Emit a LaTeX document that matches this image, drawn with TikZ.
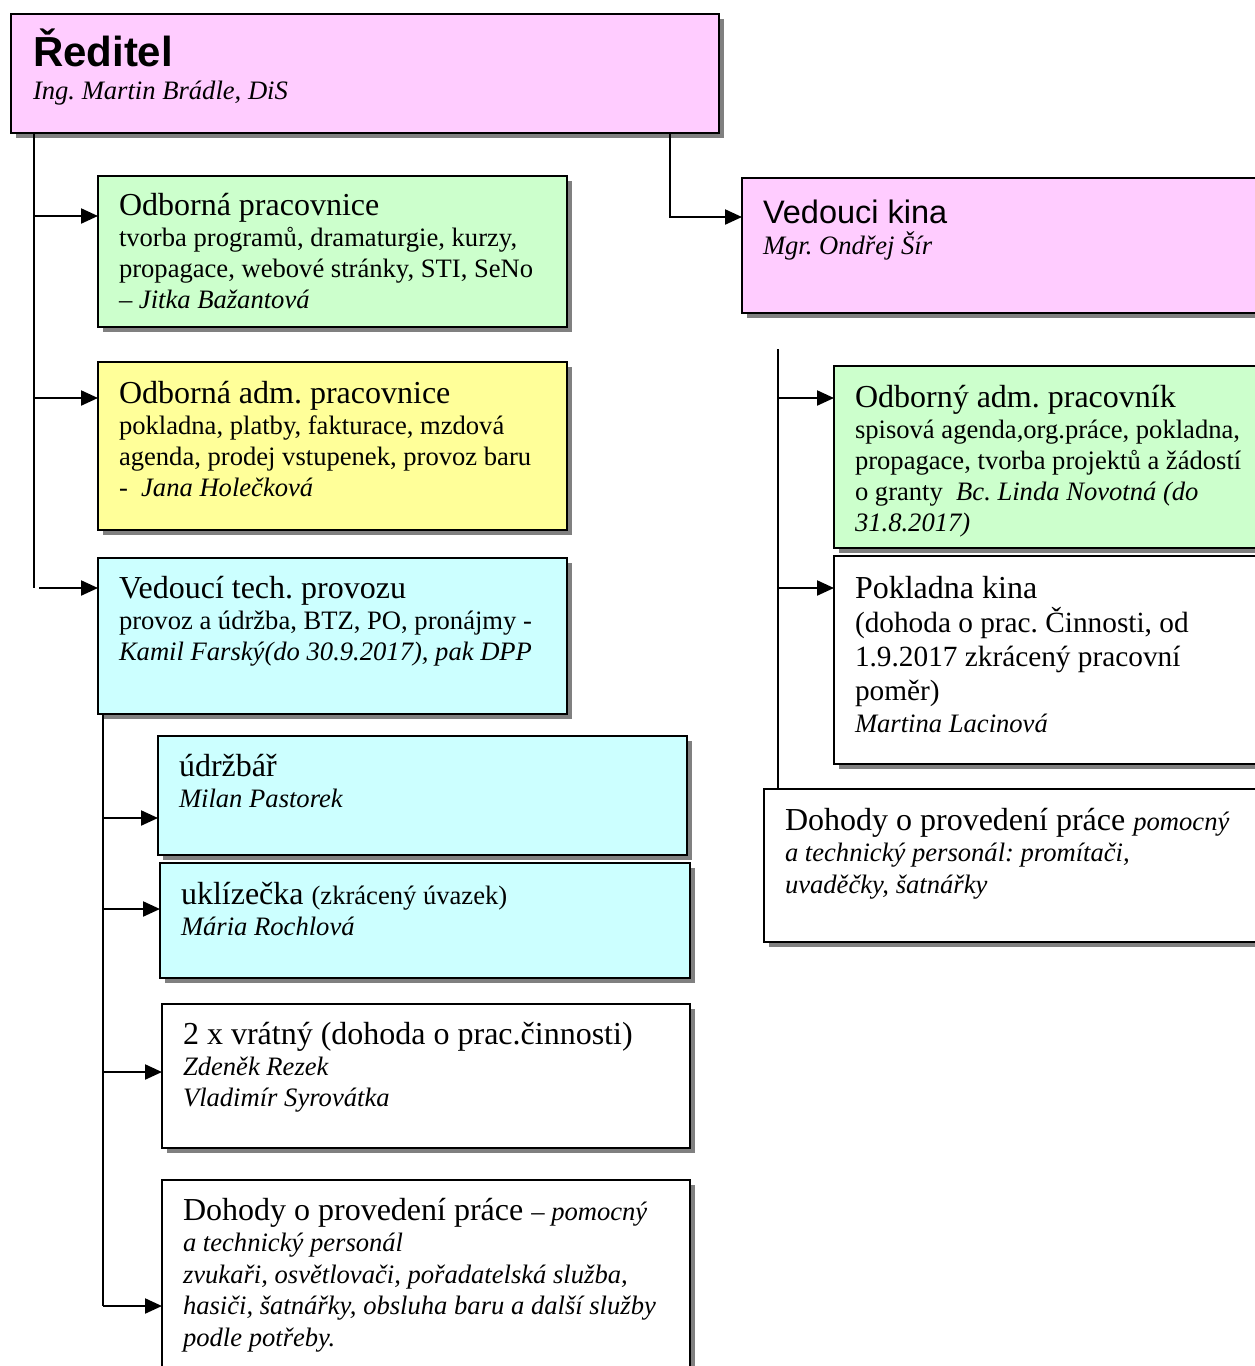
\documentclass[tikz,border=0pt]{standalone}
\usepackage{fontspec}
\setmainfont{Liberation Serif}
\newfontfamily\arialf{Liberation Sans}
\usetikzlibrary{arrows.meta,shadows}
\definecolor{pinkc}{HTML}{FFCCFF}
\definecolor{greenc}{HTML}{CCFFCC}
\definecolor{yellowc}{HTML}{FFFF99}
\definecolor{cyanc}{HTML}{CCFFFF}
\definecolor{shadowc}{HTML}{808080}
\newcommand\hd{\fontsize{32}{36}\selectfont}
\newcommand\bd{\fontsize{26.6}{31}\selectfont}
\newcommand\md{\fontsize{29.3}{34}\selectfont}
\frenchspacing
\tikzset{
  box/.style={draw=black, line width=1.8pt, anchor=north west, inner sep=0pt, outer sep=0pt,
    drop shadow={shadow xshift=5pt, shadow yshift=-5pt, fill=shadowc, opacity=1}},
  txt/.style={anchor=base west, inner sep=0pt, outer sep=0pt, text width=#1,
    execute at begin node={\raggedright\frenchspacing\spaceskip=0pt\xspaceskip=0pt}},
  conn/.style={line width=2.2pt},
  arr/.style={line width=2.2pt, -{Triangle[length=17pt,width=15pt]}},
}
\begin{document}
\begin{tikzpicture}[x=1pt,y=-1pt]
\useasboundingbox (0,0) rectangle (1255,1366);
\clip (0,0) rectangle (1255,1366);
% boxes
\node[box, fill=pinkc, minimum width=708pt, minimum height=119pt] (red) at (11,14) {};
\node[box, fill=greenc, minimum width=469pt, minimum height=151pt] (odb) at (98,176) {};
\node[box, fill=yellowc, minimum width=469pt, minimum height=168pt] (adm) at (98,362) {};
\node[box, fill=cyanc, minimum width=469pt, minimum height=156pt] (tech) at (98,558) {};
\node[box, fill=cyanc, minimum width=529pt, minimum height=119pt] (udr) at (158,736) {};
\node[box, fill=cyanc, minimum width=530pt, minimum height=115pt] (ukl) at (160,863) {};
\node[box, fill=white, minimum width=528pt, minimum height=144pt] (vrat) at (162,1004) {};
\node[box, fill=white, minimum width=528pt, minimum height=220pt] (doh) at (162,1180) {};
\node[box, fill=pinkc, minimum width=533pt, minimum height=135pt] (vk) at (742,178) {};
\node[box, fill=greenc, minimum width=441pt, minimum height=182pt] (odbR) at (834,366) {};
\node[box, fill=white, minimum width=441pt, minimum height=208pt] (pok) at (834,556) {};
\node[box, fill=white, minimum width=511pt, minimum height=153pt] (dohR) at (764,789) {};
% texts
\node[txt=680pt] (redT) at (33,66) {{\arialf\bfseries\fontsize{42}{46}\selectfont Ředitel\par}{\fontsize{26.6}{33}\selectfont\itshape Ing. Martin Brádle, DiS\par}};
\node[txt=445pt] (odbT) at (119,215) {{\hd Odborná pracovnice\par}{\bd tvorba programů, dramaturgie, kurzy,\\ propagace, webové stránky, STI, SeNo\\ \textit{– Jitka Bažantová}\par}};
\node[txt=445pt] (admT) at (119,403) {{\hd Odborná adm. pracovnice\par}{\bd pokladna, platby, fakturace, mzdová\\ agenda, prodej vstupenek, provoz baru\\ -\ \ \textit{Jana Holečková}\par}};
\node[txt=445pt] (techT) at (119,598) {{\hd Vedoucí tech. provozu\par}{\bd provoz a údržba, BTZ, PO, pronájmy -\\ \textit{Kamil Farský(do 30.9.2017), pak DPP}\par}};
\node[txt=500pt] (udrT) at (179,776) {{\hd údržbář\par}{\bd\itshape Milan Pastorek\par}};
\node[txt=500pt] (uklT) at (181,904) {{\hd uklízečka {\bd (zkrácený úvazek)}\par}{\bd\itshape Mária Rochlová\par}};
\node[txt=500pt] (vratT) at (183,1044) {{\hd 2 x vrátný (dohoda o prac.činnosti)\par}{\bd\itshape Zdeněk Rezek\\ Vladimír Syrovátka\par}};
\node[txt=500pt] (dohT) at (183,1220) {{\hd Dohody o provedení práce {\bd – \textit{pomocný}}\par}{\fontsize{26.6}{31.5}\selectfont\itshape a technický personál\\ zvukaři, osvětlovači, pořadatelská služba,\\ hasiči, šatnářky, obsluha baru a další služby\\ podle potřeby.\par}};
\node[txt=480pt] (vkT) at (763,223) {{\arialf\fontsize{32.5}{36}\selectfont Vedouci kina\par}{\bd\itshape Mgr. Ondřej Šír\par}};
\node[txt=410pt] (odbRT) at (855,407) {{\hd Odborný adm. pracovník\par}{\bd spisová agenda,org.práce, pokladna,\\ propagace, tvorba projektů a žádostí\\ o granty\ \ \textit{Bc. Linda Novotná (do\\ 31.8.2017)}\par}};
\node[txt=410pt] (pokT) at (855,598) {{\hd Pokladna kina\par}{\md (dohoda o prac. Činnosti, od\\ 1.9.2017 zkrácený pracovní\\ poměr)\par}{\fontsize{26.6}{32}\selectfont\itshape Martina Lacinová\par}};
\node[txt=480pt] (dohRT) at (785,830) {{\hd Dohody o provedení práce {\bd\itshape pomocný}\par}{\fontsize{26.6}{31.5}\selectfont\itshape a technický personál: promítači,\\ uvaděčky, šatnářky\par}};
% connectors: left trunk
\coordinate (L0) at (34,133);
\coordinate (L1) at (34,216);
\coordinate (L2) at (34,398);
\coordinate (L3) at (34,588);
\coordinate (L3s) at (39,588);
\draw[conn] (L0) -- (L3);
\draw[arr] (L1) -- (L1 -| odb.west);
\draw[arr] (L2) -- (L2 -| adm.west);
\draw[arr] (L3s) -- (L3s -| tech.west);
% sub trunk
\coordinate (S0) at (103,714);
\coordinate (S1) at (103,818);
\coordinate (S2) at (103,909);
\coordinate (S3) at (103,1072);
\coordinate (S4) at (103,1306);
\draw[conn] (S0) -- (S4);
\draw[arr] (S1) -- (S1 -| udr.west);
\draw[arr] (S2) -- (S2 -| ukl.west);
\draw[arr] (S3) -- (S3 -| vrat.west);
\draw[arr] (S4) -- (S4 -| doh.west);
% director to cinema head
\coordinate (K0) at (641,133);
\coordinate (K1) at (670,133);
\coordinate (K2) at (670,217);
\draw[arr] (K0) -- (K1) -- (K2) -- (K2 -| vk.west);
% right trunk
\coordinate (R0) at (778,349);
\coordinate (R1) at (778,398);
\coordinate (R2) at (778,588);
\draw[conn] (R0) -- (R0 |- dohR.north);
\draw[arr] (R1) -- (R1 -| odbR.west);
\draw[arr] (R2) -- (R2 -| pok.west);
\end{tikzpicture}
\end{document}
